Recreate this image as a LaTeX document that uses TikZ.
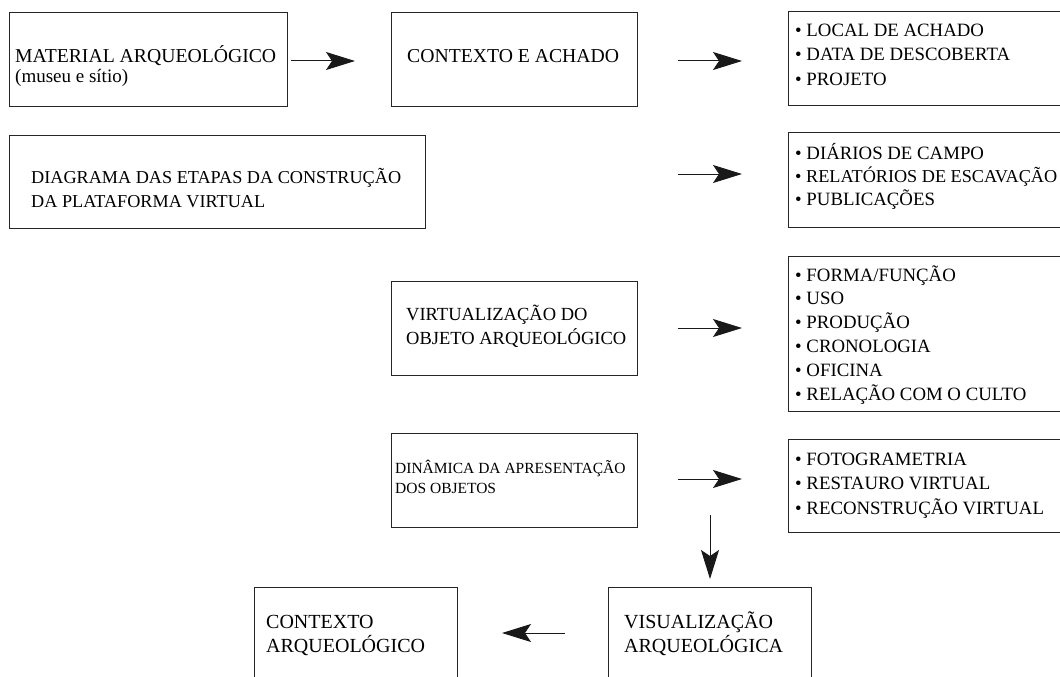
\documentclass[tikz,border=0pt]{standalone}
\usepackage{fontspec}
\setmainfont{Liberation Serif}
\usetikzlibrary{arrows.meta}
\tikzset{
  box/.style={draw=black!85, line width=0.9pt, anchor=north west, inner sep=0pt, outer sep=0pt},
  lbl/.style={anchor=base west, inner sep=0pt, text=black, font=\fontsize{18.5}{22}\selectfont},
  big/.style={lbl, font=\fontsize{19.7}{22}\selectfont},
  small/.style={lbl, font=\fontsize{15.5}{18}\selectfont},
  bot/.style={lbl, font=\fontsize{20}{22}\selectfont},
  bul/.style={lbl, font=\fontsize{18.8}{22}\selectfont},
  conn/.style={line width=1pt, black!90, -{Stealth[length=29pt,width=18pt,inset=6pt]}},
}
\begin{document}
\begin{tikzpicture}[x=1pt,y=-1pt]
\useasboundingbox (0,0) rectangle (1060,677);
\clip (0,0) rectangle (1060,677);

% boxes
\node[box, minimum width=278pt, minimum height=94pt] (b1) at (9,12) {};
\node[box, minimum width=246pt, minimum height=94pt] (b2) at (391,12) {};
\node[box, minimum width=300pt, minimum height=94pt] (b3) at (788,11) {};
\node[box, minimum width=416pt, minimum height=93pt] (b4) at (9,135) {};
\node[box, minimum width=300pt, minimum height=95pt] (b5) at (788,132) {};
\node[box, minimum width=246pt, minimum height=94pt] (b6) at (391,281) {};
\node[box, minimum width=300pt, minimum height=155pt] (b7) at (788,256) {};
\node[box, minimum width=246pt, minimum height=94pt] (b8) at (391,433) {};
\node[box, minimum width=300pt, minimum height=93pt] (b9) at (788,439) {};
\node[box, minimum width=203pt, minimum height=120pt] (b10) at (608,587) {};
\node[box, minimum width=203pt, minimum height=120pt] (b11) at (254,587) {};

% texts
\node[big] (t1a) at (15,63) {MATERIAL ARQUEOLÓGICO};
\node[lbl, font=\fontsize{19}{22}\selectfont] (t1b) at (15,82) {(museu e sítio)};
\node[big] (t2) at (407,63) {CONTEXTO E ACHADO};
\node[lbl, font=\fontsize{18.2}{22}\selectfont] (t4a) at (31,183) {DIAGRAMA DAS ETAPAS DA CONSTRUÇÃO};
\node[lbl, font=\fontsize{18.2}{22}\selectfont] (t4b) at (31,207) {DA PLATAFORMA VIRTUAL};
\node[lbl] (t6a) at (406,320) {VIRTUALIZAÇÃO DO};
\node[lbl] (t6b) at (406,344) {OBJETO ARQUEOLÓGICO};
\node[small] (t8a) at (395,473) {DINÂMICA DA APRESENTAÇÃO};
\node[small] (t8b) at (395,493) {DOS OBJETOS};
\node[bot] (t10a) at (624,628) {VISUALIZAÇÃO};
\node[bot] (t10b) at (624,652) {ARQUEOLÓGICA};
\node[bot] (t11a) at (266,628) {CONTEXTO};
\node[bot] (t11b) at (266,652) {ARQUEOLÓGICO};

\foreach \t [count=\i] in {LOCAL DE ACHADO, DATA DE DESCOBERTA, PROJETO}
  \node[bul] (l3-\i) at (795,{37+24*(\i-1)}) {• \t};
\node[bul] (l5-1) at (795,159) {• DIÁRIOS DE CAMPO};
\node[bul, font=\fontsize{18.2}{22}\selectfont] (l5-2) at (795,182) {• RELATÓRIOS DE ESCAVAÇÃO};
\node[bul] (l5-3) at (795,205) {• PUBLICAÇÕES};
\foreach \t [count=\i] in {FORMA/FUNÇÃO, USO, PRODUÇÃO, CRONOLOGIA, OFICINA, RELAÇÃO COM O CULTO}
  \node[bul] (l7-\i) at (795,{281+23.8*(\i-1)}) {• \t};
\foreach \t [count=\i] in {FOTOGRAMETRIA, RESTAURO VIRTUAL, RECONSTRUÇÃO VIRTUAL}
  \node[bul] (l9-\i) at (795,{465+24.5*(\i-1)}) {• \t};

% connectors
\coordinate (a1s) at (291,61);  \coordinate (a1e) at (355,61);
\coordinate (a2s) at (678,61);  \coordinate (a2e) at (742,61);
\coordinate (a3s) at (678,174); \coordinate (a3e) at (742,174);
\coordinate (a4s) at (678,328); \coordinate (a4e) at (742,328);
\coordinate (a5s) at (678,479); \coordinate (a5e) at (742,479);
\coordinate (a6s) at (710,515); \coordinate (a6e) at (710,579);
\coordinate (a7s) at (565,633); \coordinate (a7e) at (502,633);
\foreach \k in {1,...,7} \draw[conn] (a\k s) -- (a\k e);
\end{tikzpicture}
\end{document}
